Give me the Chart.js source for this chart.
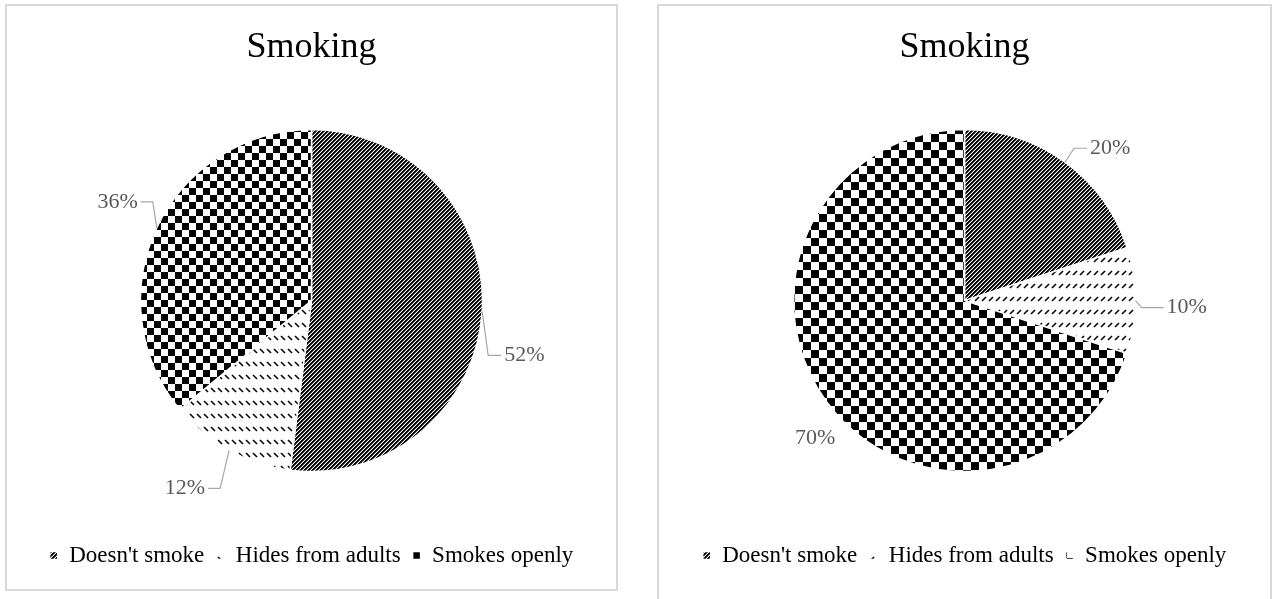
<!DOCTYPE html>
<html>
<head>
<meta charset="utf-8">
<script src="https://cdn.jsdelivr.net/npm/chart.js@4.4.1/dist/chart.umd.min.js"></script>
<style>
  body { margin: 0; background: #fff; }
  .box { position: absolute; border: 2px solid #d9d9d9; background: #fff; overflow: hidden; }
  #box1 { left: 5px; top: 4px; width: 609px; height: 583px; }
  #box2 { left: 657px; top: 4px; width: 611px; height: 620px; }
  canvas { display: block; }
</style>
</head>
<body>
<div class="box" id="box1"><canvas id="left" width="609" height="583"></canvas></div>
<div class="box" id="box2"><canvas id="right" width="611" height="583"></canvas></div>
<script>
const categories = ["Doesn't smoke", "Hides from adults", "Smokes openly"];
const chartTitle = "Smoking";
const leftValues = [52, 12, 36];
const rightValues = [20, 10, 70];

const serif = "'Liberation Serif', 'Times New Roman', serif";

// small tiles used as fills
function makePattern(w, h, draw) {
  let c = document.createElement("canvas");
  c.width = w; c.height = h;
  let g = c.getContext("2d");
  g.fillStyle = "#fff";
  g.fillRect(0, 0, w, h);
  g.fillStyle = "#000";
  g.strokeStyle = "#000";
  draw(g, w, h);
  return document.createElement("canvas").getContext("2d").createPattern(c, "repeat");
}

// "/" bands drawn pixel by pixel so they stay crisp
function stripes() {
  return makePattern(4, 4, (g) => {
    for (let x = 0; x < 4; x++) {
      for (let y = 0; y < 4; y++) {
        let k = (x + y) % 4;
        if (k < 2) { g.fillStyle = "#000"; g.fillRect(x, y, 1, 1); }
        else if (k == 2) { g.fillStyle = "#555"; g.fillRect(x, y, 1, 1); }
      }
    }
  });
}

function checker(q) {
  return makePattern(q * 2, q * 2, (g) => {
    g.fillRect(0, 0, q, q);
    g.fillRect(q, q, q, q);
  });
}

function dashes(up) {
  return makePattern(7, 13, (g) => {
    g.lineWidth = 1.6;
    g.beginPath();
    if (up) { g.moveTo(1, 9); g.lineTo(5, 5); }
    else { g.moveTo(1, 5); g.lineTo(5, 9); }
    g.stroke();
  });
}

// percentage labels with elbow leader lines
const leaderLabels = {
  id: "leaderLabels",
  afterDatasetsDraw(chart, args, opts) {
    let ctx = chart.ctx;
    let meta = chart.getDatasetMeta(0);
    let vals = chart.data.datasets[0].data;
    ctx.save();
    ctx.font = "22px " + serif;
    ctx.textBaseline = "middle";
    meta.data.forEach((arc, i) => {
      let p = arc.getProps(["x", "y", "startAngle", "endAngle", "outerRadius"], true);
      let a = (p.startAngle + p.endAngle) / 2;
      let ex = p.x + Math.cos(a) * p.outerRadius;
      let ey = p.y + Math.sin(a) * p.outerRadius;
      let s = opts.spots[i];
      if (s.line) {
        ctx.strokeStyle = "#a6a6a6";
        ctx.lineWidth = 1.2;
        ctx.beginPath();
        ctx.moveTo(ex, ey);
        ctx.lineTo(ex + s.elbow[0], ey + s.elbow[1]);
        ctx.lineTo(ex + s.end[0], ey + s.end[1]);
        ctx.stroke();
      }
      ctx.fillStyle = "#595959";
      ctx.textAlign = s.align;
      ctx.fillText(vals[i] + "%", ex + s.text[0], ey + s.text[1]);
    });
    ctx.restore();
  }
};

function makeChart(id, values, fills, spots) {
  return new Chart(document.getElementById(id), {
    type: "pie",
    data: {
      labels: categories,
      datasets: [{
        data: values,
        backgroundColor: fills,
        borderColor: "#fff",
        borderWidth: 1.5
      }]
    },
    options: {
      responsive: false,
      animation: false,
      events: [],
      radius: 171,
      layout: { padding: { bottom: 12 } },
      plugins: {
        title: {
          display: true,
          text: chartTitle,
          color: "#000",
          font: { family: serif, size: 36, weight: "normal" },
          padding: { top: 20, bottom: 0 }
        },
        legend: {
          position: "bottom",
          labels: {
            color: "#000",
            font: { family: serif, size: 23 },
            boxWidth: 8,
            boxHeight: 8,
            padding: 12
          }
        },
        tooltip: { enabled: false },
        leaderLabels: { spots: spots }
      }
    },
    plugins: [leaderLabels]
  });
}

makeChart("left", leftValues,
  [stripes(), dashes(false), checker(7)],
  [
    { line: true, elbow: [6, 44], end: [19, 44], text: [22, 44], align: "left" },
    { line: true, elbow: [-9, 38], end: [-21, 38], text: [-24, 38], align: "right" },
    { line: true, elbow: [-4, -26], end: [-16, -26], text: [-19, -26], align: "right" }
  ]);

makeChart("right", rightValues,
  [stripes(), dashes(true), checker(8)],
  [
    { line: true, elbow: [9, -14], end: [22, -14], text: [25, -14], align: "left" },
    { line: true, elbow: [6, 7], end: [28, 7], text: [31, 7], align: "left" },
    { line: false, text: [-11, 37], align: "center" }
  ]);
</script>
</body>
</html>
